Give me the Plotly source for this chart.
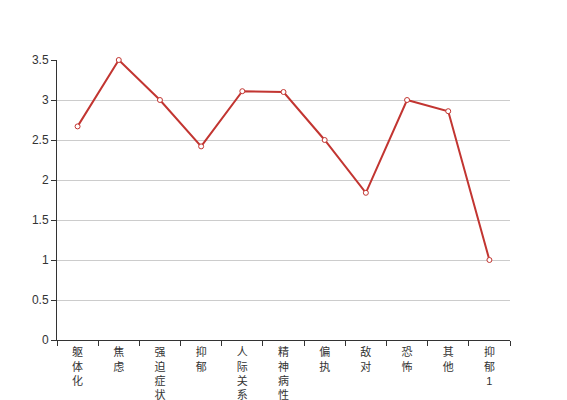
import plotly.graph_objects as go

categories = ["躯体化", "焦虑", "强迫症状", "抑郁", "人际关系敏感", "精神病性", "偏执", "敌对", "恐怖", "其他", "抑郁1"]
values = [2.67, 3.5, 3.0, 2.42, 3.11, 3.1, 2.5, 1.84, 3.0, 2.86, 1.0]
y_ticks = [0, 0.5, 1, 1.5, 2, 2.5, 3, 3.5]
y_tick_labels = ["0", "0.5", "1", "1.5", "2", "2.5", "3", "3.5"]

tick_text = ["<br>".join(list(c)) for c in categories]

fig = go.Figure()
fig.add_trace(go.Scatter(
    x=categories, y=values, mode="lines+markers",
    line=dict(color="#c23531", width=2),
    marker=dict(symbol="circle", size=5, color="white",
                line=dict(color="#c23531", width=1)),
    hoverinfo="x+y", showlegend=False, cliponaxis=False,
))

# page body has an 8px margin; size the figure so it fits the 567x400 window
fig.update_layout(
    width=559, height=392,
    margin=dict(l=49, r=57, t=52, b=60),
    paper_bgcolor="white", plot_bgcolor="white",
    font=dict(family="Liberation Sans, Noto Sans CJK SC, sans-serif", size=12, color="#333"),
)
fig.update_xaxes(
    type="category", tickmode="array", tickvals=categories, ticktext=tick_text,
    range=[-0.5, len(categories) - 0.5],
    tickson="boundaries", ticks="outside", ticklen=5, tickcolor="#333",
    showline=True, linecolor="#333", linewidth=1, showgrid=False,
    tickfont=dict(size=11, color="#333"), tickangle=0, automargin=False,
    ticklabelstandoff=2,
)
fig.update_yaxes(
    range=[0, 3.5], tickmode="array", tickvals=y_ticks, ticktext=y_tick_labels,
    ticks="outside", ticklen=5, tickcolor="#333",
    showline=True, linecolor="#333", linewidth=1,
    showgrid=True, gridcolor="#ccc", gridwidth=1, zeroline=False,
    tickfont=dict(size=12, color="#333"), automargin=False,
)

fig.write_html("out.html")
